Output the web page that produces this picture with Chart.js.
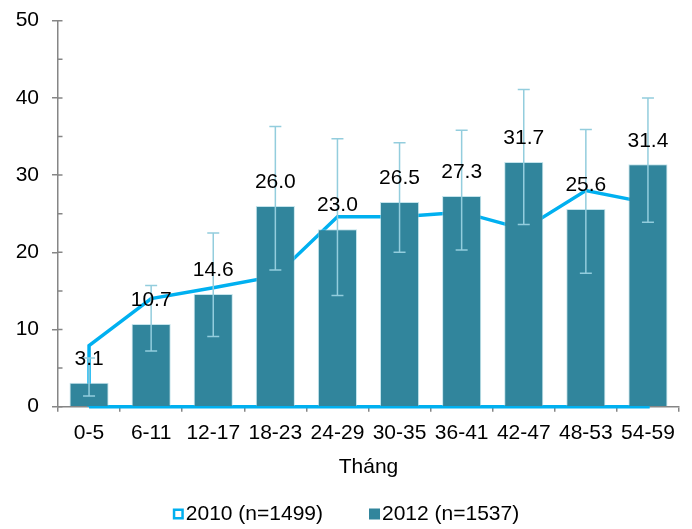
<!DOCTYPE html>
<html>
<head>
<meta charset="utf-8">
<script src="https://cdn.jsdelivr.net/npm/chart.js@4.4.0/dist/chart.umd.min.js"></script>
<style>
  html, body { margin: 0; padding: 0; background: #ffffff; }
  #wrap { width: 692px; height: 529px; position: relative; }
</style>
</head>
<body>
<div id="wrap"><canvas id="c" width="692" height="529"></canvas></div>
<script>
// ---- data ----
const categories = ['0-5', '6-11', '12-17', '18-23', '24-29', '30-35', '36-41', '42-47', '48-53', '54-59'];
const values2012 = [3.1, 10.7, 14.6, 26.0, 23.0, 26.5, 27.3, 31.7, 25.6, 31.4];
const errLow2012 = [1.4, 7.2, 9.1, 17.7, 14.4, 20.0, 20.3, 23.6, 17.3, 23.9];
const errHigh2012 = [6.3, 15.7, 22.5, 36.3, 34.7, 34.2, 35.8, 41.1, 35.9, 40.0];
const values2010 = [7.9, 14.0, 15.4, 16.9, 24.6, 24.6, 25.2, 23.0, 28.0, 26.4];
const yTicks = [0, 10, 20, 30, 40, 50];
const seriesLabels = ['2010 (n=1499)', '2012 (n=1537)'];

// 2010 is an unfilled area outline: baseline -> values -> baseline -> back
const outline2010 = [{ x: categories[0], y: 0 }]
  .concat(categories.map((c, i) => ({ x: c, y: values2010[i] })))
  .concat([{ x: categories[categories.length - 1], y: 0 }, { x: categories[0], y: 0 }]);

const COL_BAR = '#31859C';
const COL_LINE = '#00B0F0';
const COL_ERR = '#93CDDD';
const COL_AXIS = '#868686';
const FONT = '"Liberation Sans", Arial, sans-serif';
const FS = 21;

const extrasPlugin = {
  id: 'extras',
  afterDatasetsDraw(chart) {
    const ctx = chart.ctx;
    const meta = chart.getDatasetMeta(0);
    const y = chart.scales.y;
    // error bars
    ctx.save();
    ctx.strokeStyle = COL_ERR;
    ctx.lineWidth = 1.5;
    meta.data.forEach((bar, i) => {
      const x = bar.x;
      const yl = y.getPixelForValue(errLow2012[i]);
      const yh = y.getPixelForValue(errHigh2012[i]);
      ctx.beginPath();
      ctx.moveTo(x, yl); ctx.lineTo(x, yh);
      ctx.moveTo(x - 6, yl); ctx.lineTo(x + 6, yl);
      ctx.moveTo(x - 6, yh); ctx.lineTo(x + 6, yh);
      ctx.stroke();
    });
    // data labels
    ctx.fillStyle = '#000';
    ctx.font = FS + 'px ' + FONT;
    ctx.textAlign = 'center';
    ctx.textBaseline = 'middle';
    meta.data.forEach((bar, i) => {
      ctx.fillText(values2012[i].toFixed(1), bar.x, bar.y - 23.5);
    });
    ctx.restore();
  },
  afterDraw(chart) {
    const ctx = chart.ctx;
    const y = chart.scales.y;
    const ax = chart.chartArea.left;
    ctx.save();
    ctx.strokeStyle = COL_AXIS;
    ctx.lineWidth = 1.5;
    ctx.beginPath();
    for (let v = 0; v <= 50; v += 5) {
      const py = y.getPixelForValue(v);
      ctx.moveTo(ax, py); ctx.lineTo(ax + 4.5, py);
    }
    ctx.stroke();
    // legend
    ctx.font = FS + 'px ' + FONT;
    ctx.textBaseline = 'middle';
    ctx.textAlign = 'left';
    const box = 11, gapTxt = 2, gapItem = 46;
    const w0 = ctx.measureText(seriesLabels[0]).width;
    const w1 = ctx.measureText(seriesLabels[1]).width;
    const total = box + gapTxt + w0 + gapItem + box + gapTxt + w1;
    let lx = chart.width / 2 - total / 2;
    const ly = 514;
    ctx.fillStyle = '#fff';
    ctx.fillRect(lx, ly - box / 2, box, box);
    ctx.strokeStyle = COL_LINE;
    ctx.lineWidth = 2.5;
    ctx.strokeRect(lx + 1.25, ly - box / 2 + 1.25, box - 2.5, box - 2.5);
    ctx.fillStyle = '#000';
    ctx.fillText(seriesLabels[0], lx + box + gapTxt, ly);
    lx += box + gapTxt + w0 + gapItem;
    ctx.fillStyle = COL_BAR;
    ctx.fillRect(lx, ly - box / 2, box, box);
    ctx.fillStyle = '#000';
    ctx.fillText(seriesLabels[1], lx + box + gapTxt, ly);
    ctx.restore();
  }
};

new Chart(document.getElementById('c'), {
  type: 'bar',
  data: {
    labels: categories,
    datasets: [
      {
        type: 'bar',
        label: seriesLabels[1],
        data: values2012,
        backgroundColor: COL_BAR,
        borderColor: 'rgba(147,205,221,0.55)',
        borderWidth: 1,
        barPercentage: 0.63,
        categoryPercentage: 1.0,
        order: 1
      },
      {
        type: 'line',
        label: seriesLabels[0],
        data: outline2010,
        borderColor: COL_LINE,
        borderWidth: 3.5,
        pointRadius: 0,
        tension: 0,
        fill: false,
        clip: 6,
        order: 2
      }
    ]
  },
  options: {
    responsive: false,
    animation: false,
    events: [],
    layout: { padding: { left: 0, right: 13, top: 20.7, bottom: 48.9 } },
    plugins: {
      legend: { display: false },
      tooltip: { enabled: false }
    },
    scales: {
      x: {
        z: 1,
        grid: { offset: true, drawOnChartArea: false, tickLength: 5, color: COL_AXIS, lineWidth: 1.5 },
        border: { color: COL_AXIS, width: 1.5 },
        ticks: { color: '#000', font: { size: FS, family: FONT }, padding: 9, maxRotation: 0, autoSkip: false },
        title: { display: true, text: 'Tháng', color: '#000', font: { size: FS, family: FONT }, padding: { top: 0, bottom: 0 } }
      },
      y: {
        min: 0, max: 50,
        afterFit(scale) { scale.width = 58; scale.paddingTop = 0; },
        afterBuildTicks(scale) { scale.ticks = yTicks.map(v => ({ value: v })); },
        grid: { drawOnChartArea: false, tickLength: 6, color: COL_AXIS, lineWidth: 1.5 },
        border: { color: COL_AXIS, width: 1.5 },
        ticks: { color: '#000', font: { size: FS, family: FONT }, padding: 13 }
      }
    }
  },
  plugins: [extrasPlugin]
});
</script>
</body>
</html>
